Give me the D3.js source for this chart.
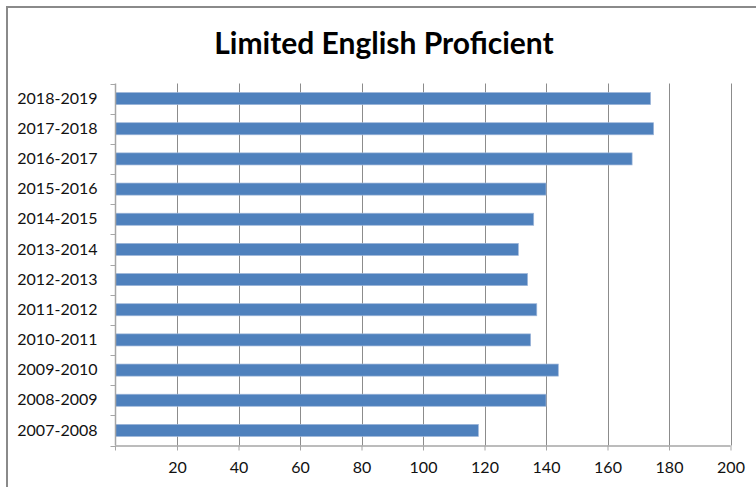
<!DOCTYPE html>
<html><head><meta charset="utf-8">
<script src="https://cdn.jsdelivr.net/npm/d3@7"></script>
<style>body{margin:0;background:#fff}svg{display:block}text{font-family:Lato,"Open Sans",sans-serif}</style>
</head><body><svg id="c" width="756" height="487"></svg>
<script>
const categories = ["2018-2019","2017-2018","2016-2017","2015-2016","2014-2015","2013-2014","2012-2013","2011-2012","2010-2011","2009-2010","2008-2009","2007-2008"];
const values = [174,175,168,140,136,131,134,137,135,144,140,118];
const xTicks = [20,40,60,80,100,120,140,160,180,200];
const title = "Limited English Proficient";

(function(){
const svg = d3.select("#c");
const pl = 115.5, pr = 730.5, pt = 83.5, pb = 445.5;
const x = d3.scaleLinear().domain([0,200]).range([pl,pr]);
const y = d3.scaleBand().domain(categories).range([pt,pb]).padding(0);

svg.append("path").attr("d","M7,487 V7 H756").attr("fill","none").attr("stroke","#8a8a8a").attr("stroke-width",2);

svg.append("text").attr("x",384).attr("y",54).attr("text-anchor","middle")
  .attr("font-size",30).attr("font-weight",700).attr("fill","#000").text(title);

svg.append("g").selectAll("line").data(xTicks).join("line")
  .attr("x1",d=>Math.round(x(d))+0.5).attr("x2",d=>Math.round(x(d))+0.5)
  .attr("y1",pt).attr("y2",pb).attr("stroke","#8c8c8c").attr("stroke-width",1);

const bh = y.step()*0.4;
svg.append("g").selectAll("rect").data(values).join("rect")
  .attr("x",x(0)).attr("y",(d,i)=>y(categories[i])+y.step()/2-bh/2)
  .attr("width",d=>x(d)-x(0)).attr("height",bh)
  .attr("fill","#4F81BD").attr("stroke","#9DB6D9").attr("stroke-width",0.7);

const xa = svg.append("g").attr("transform",`translate(0,${pb})`)
  .call(d3.axisBottom(x).tickValues(xTicks).tickSize(5).tickSizeOuter(0).tickFormat(d3.format("d")));
xa.select(".domain").attr("stroke","#a6a6a6").attr("stroke-width",1.5).attr("d",`M${pl},0.5H${pr}`);
xa.selectAll(".tick line").attr("stroke","#a6a6a6");
xa.selectAll(".tick text").attr("font-size",16).attr("fill","#111").attr("dy","0.35em").attr("y",22).style("font-family","Lato,sans-serif");
xa.append("line").attr("x1",pl).attr("x2",pl).attr("y1",0).attr("y2",5).attr("stroke","#a6a6a6");

const ya = svg.append("g").attr("transform",`translate(${pl},0)`)
  .call(d3.axisLeft(y).tickSize(0).tickPadding(18));
ya.select(".domain").attr("stroke","#a6a6a6").attr("stroke-width",1.5).attr("d",`M0,${pt}V${pb}`);
ya.selectAll(".tick text").attr("font-size",16).attr("fill","#111").style("font-family","Lato,sans-serif");
const bounds = categories.map(c=>y(c)).concat([pb]);
ya.append("g").selectAll("line").data(bounds).join("line")
  .attr("x1",-5).attr("x2",0).attr("y1",d=>Math.round(d)+0.5).attr("y2",d=>Math.round(d)+0.5).attr("stroke","#a6a6a6");
})();
</script></body></html>
